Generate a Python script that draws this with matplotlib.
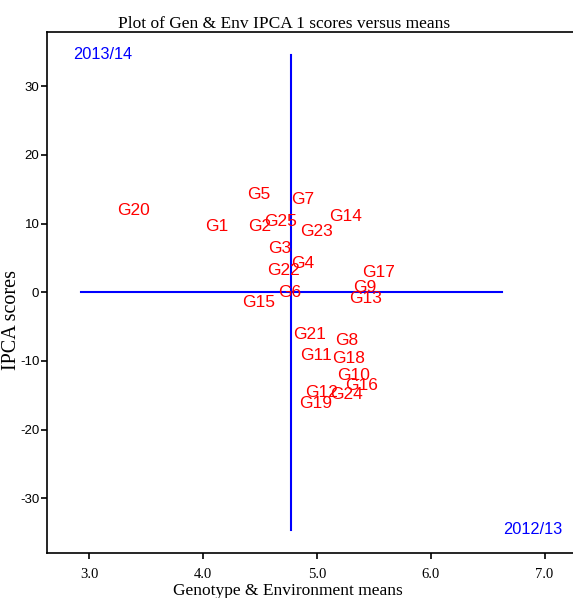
import matplotlib
matplotlib.use("Agg")
import matplotlib.pyplot as plt

# Genotype labels with (mean, IPCA 1 score)
genotypes = ["G1", "G2", "G3", "G4", "G5", "G6", "G7", "G8", "G9", "G10",
             "G11", "G12", "G13", "G14", "G15", "G16", "G17", "G18", "G19", "G20",
             "G21", "G22", "G23", "G24", "G25"]
gen_means = [4.12, 4.50, 4.67, 4.88, 4.49, 4.76, 4.88, 5.26, 5.42, 5.32,
             4.99, 5.04, 5.43, 5.25, 4.49, 5.39, 5.54, 5.28, 4.99, 3.39,
             4.94, 4.71, 5.00, 5.26, 4.68]
gen_ipca = [9.84, 9.84, 6.59, 4.45, 14.46, 0.12, 13.67, -6.73, 0.95, -11.88,
            -8.99, -14.39, -0.66, 11.30, -1.24, -13.38, 3.09, -9.45, -15.92, 12.17,
            -5.95, 3.40, 9.11, -14.65, 10.52]

# Environments
environments = ["2013/14", "2012/13"]
env_means = [3.12, 6.90]
env_ipca = [34.77, -34.33]

# grand mean reference lines
grand_mean = 4.775
mean_range = [2.93, 6.63]
ipca_range = [-34.6, 34.6]

xticks = [3.0, 4.0, 5.0, 6.0, 7.0]
yticks = [-30, -20, -10, 0, 10, 20, 30]

fig = plt.figure(figsize=(5.73, 5.98), dpi=100)
ax = fig.add_axes([0.082, 0.0753, 0.918, 0.8712])

ax.plot(mean_range, [0, 0], color="blue", lw=1.5)
ax.plot([grand_mean, grand_mean], ipca_range, color="blue", lw=1.5)

for g, x, y in zip(genotypes, gen_means, gen_ipca):
    ax.text(x, y, g, color="red", fontsize=12.5, ha="center", va="center_baseline",
            family="Liberation Sans")
for e, x, y in zip(environments, env_means, env_ipca):
    ax.text(x, y, e, color="blue", fontsize=11.8, ha="center", va="center_baseline",
            family="Liberation Sans")

ax.set_xlim(2.63, 7.25)
ax.set_ylim(-37.95, 37.9)
ax.spines["right"].set_visible(False)
for s in ["left", "top", "bottom"]:
    ax.spines[s].set_linewidth(1.2)

ax.set_xticks(xticks)
ax.set_xticklabels(["%.1f" % v for v in xticks], family="Liberation Serif", fontsize=10.5)
ax.set_yticks(yticks)
ax.set_yticklabels([str(v) for v in yticks], family="Liberation Sans", fontsize=9.5)
ax.tick_params(axis="y", length=4, width=1.2, pad=1.5)
ax.tick_params(axis="x", length=4, width=1.2, pad=7)

ax.set_title("Plot of Gen & Env IPCA 1 scores versus means", family="Liberation Serif",
             fontsize=12.5, x=0.45, pad=3)
ax.set_xlabel("Genotype & Environment means", family="Liberation Serif", fontsize=12.5,
              labelpad=-1)
ax.xaxis.set_label_coords(0.458, -0.058)
ax.set_ylabel("IPCA scores", family="Liberation Serif", fontsize=14.5)
ax.yaxis.set_label_coords(-0.05, 0.447)

fig.savefig("out.png", dpi=100)
